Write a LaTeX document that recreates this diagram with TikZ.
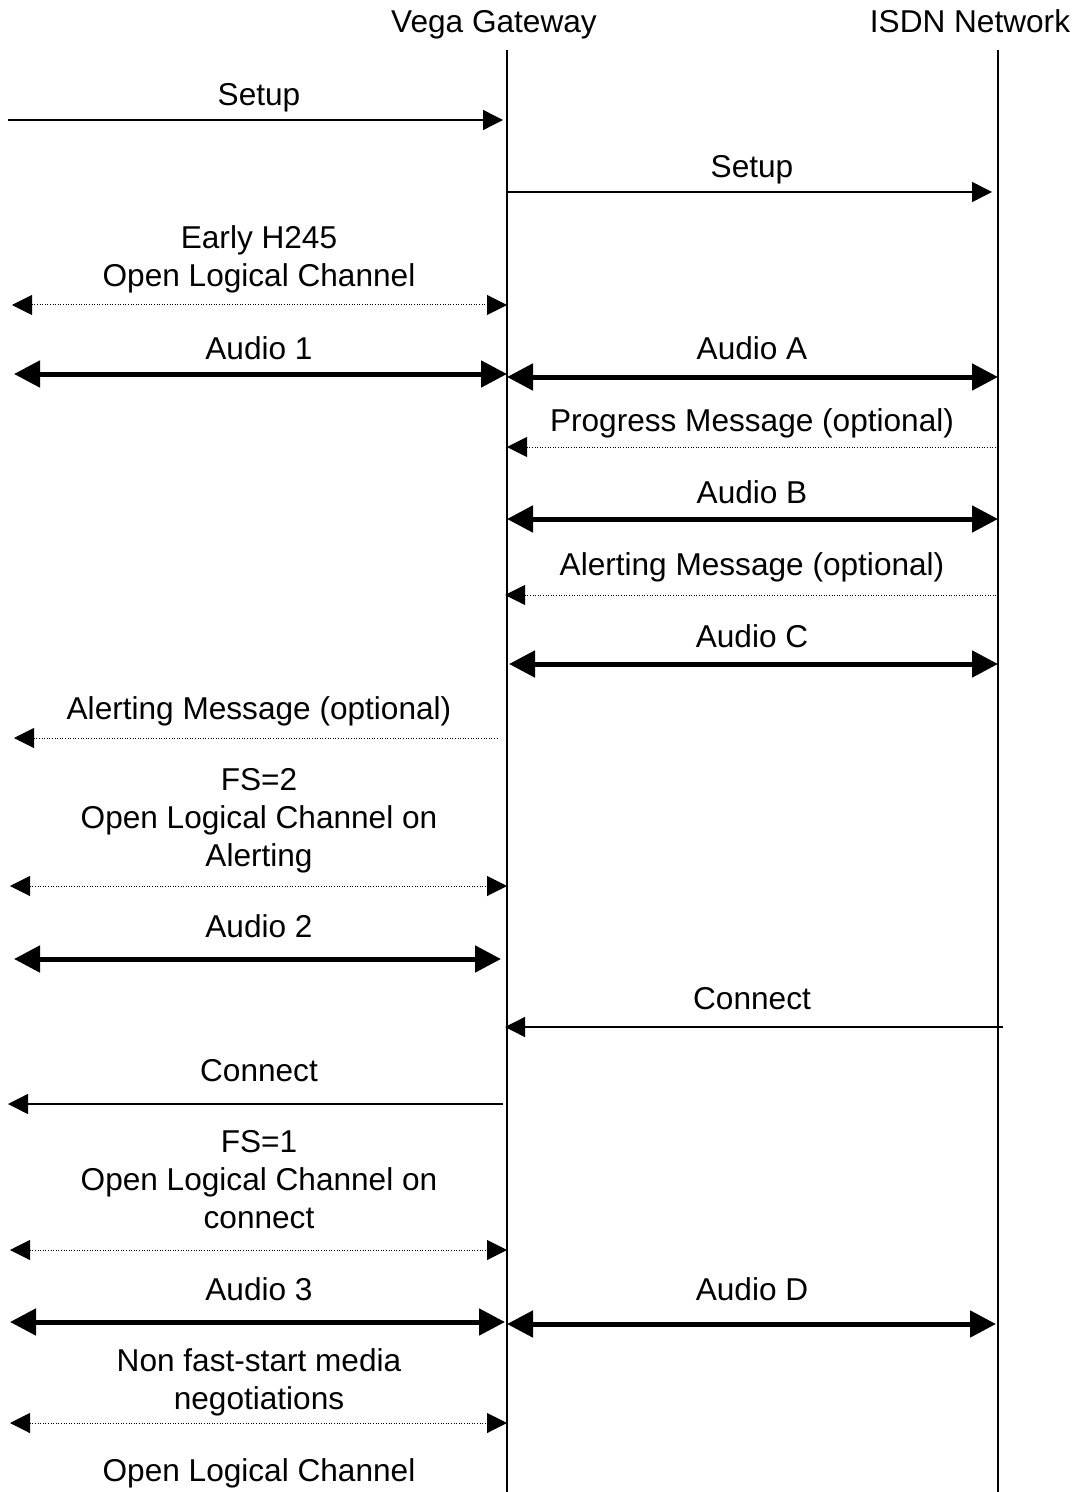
\documentclass[tikz,border=0pt]{standalone}
\usepackage{fontspec}
\setmainfont{Liberation Sans}
\usetikzlibrary{arrows.meta}
\tikzset{
  lbl/.style={font=\fontsize{15.8}{19}\selectfont, align=center, inner sep=0pt, anchor=base},
  lifeline/.style={line width=1pt},
  msg/.style={line width=0.7pt, -{Triangle[length=10pt,width=10pt]}},
  optmsg/.style={line width=0.5pt, dash pattern=on 0.5pt off 0.8pt},
  optboth/.style={optmsg, {Triangle[length=10pt,width=10pt]}-{Triangle[length=10pt,width=10pt]}},
  optleft/.style={optmsg, {Triangle[length=10pt,width=10pt]}-},
  media/.style={line width=2.5pt, {Triangle[length=13pt,width=13pt]}-{Triangle[length=13pt,width=13pt]}},
}
\begin{document}
\begin{tikzpicture}[x=0.5pt,y=-0.5pt]
    \useasboundingbox (0,0) rectangle (1079,1492);

    % lifelines
    \node[lbl] (gwname) at (494,33) {Vega Gateway};
    \node[lbl] (isdnname) at (970,33) {ISDN Network};
    \coordinate (gwtop) at (507,50);
    \coordinate (gwbot) at (507,1492);
    \coordinate (isdntop) at (998,50);
    \coordinate (isdnbot) at (998,1492);
    \draw[lifeline] (gwtop) -- (gwbot);
    \draw[lifeline] (isdntop) -- (isdnbot);

    % setup
    \coordinate (setupa) at (8,120);
    \coordinate (setupb) at (503,120);
    \draw[msg] (setupa) -- (setupb);
    \node[lbl] (setupl) at (259,106) {Setup};

    \coordinate (isetupa) at (507,192);
    \coordinate (isetupb) at (992,192);
    \draw[msg] (isetupa) -- (isetupb);
    \node[lbl] (isetupl) at (752,178) {Setup};

    % early h245 (base = last line)
    \coordinate (olca) at (12,305);
    \coordinate (olcb) at (507,305);
    \draw[optboth] (olca) -- (olcb);
    \node[lbl] (olcl) at (259,287) {Early H245\\Open Logical Channel};

    % audio 1 / A
    \coordinate (au1a) at (14,374);
    \coordinate (au1b) at (507,374);
    \draw[media] (au1a) -- (au1b);
    \node[lbl] (au1l) at (259,359) {Audio 1};

    \coordinate (auAa) at (507,377);
    \coordinate (auAb) at (998,377);
    \draw[media] (auAa) -- (auAb);
    \node[lbl] (auAl) at (752,359) {Audio A};

    % progress
    \coordinate (proga) at (507,447);
    \coordinate (progb) at (998,447);
    \draw[optleft] (proga) -- (progb);
    \node[lbl] (progl) at (752,431) {Progress Message (optional)};

    % audio B
    \coordinate (auBa) at (507,519);
    \coordinate (auBb) at (998,519);
    \draw[media] (auBa) -- (auBb);
    \node[lbl] (auBl) at (752,503) {Audio B};

    % alerting isdn side
    \coordinate (ialerta) at (505,595);
    \coordinate (ialertb) at (998,595);
    \draw[optleft] (ialerta) -- (ialertb);
    \node[lbl] (ialertl) at (752,575) {Alerting Message (optional)};

    % audio C
    \coordinate (auCa) at (509,664);
    \coordinate (auCb) at (998,664);
    \draw[media] (auCa) -- (auCb);
    \node[lbl] (auCl) at (752,647) {Audio C};

    % alerting h323 side
    \coordinate (alerta) at (14,738);
    \coordinate (alertb) at (497,738);
    \draw[optleft] (alerta) -- (alertb);
    \node[lbl] (alertl) at (259,719) {Alerting Message (optional)};

    % fs=2
    \coordinate (fs2a) at (10,886);
    \coordinate (fs2b) at (507,886);
    \draw[optboth] (fs2a) -- (fs2b);
    \node[lbl] (fs2l) at (259,866) {FS=2\\Open Logical Channel on\\Alerting};

    % audio 2
    \coordinate (au2a) at (14,959);
    \coordinate (au2b) at (501,959);
    \draw[media] (au2a) -- (au2b);
    \node[lbl] (au2l) at (259,937) {Audio 2};

    % connect
    \coordinate (iconna) at (505,1027);
    \coordinate (iconnb) at (1003,1027);
    \draw[msg] (iconnb) -- (iconna);
    \node[lbl] (iconnl) at (752,1009) {Connect};

    \coordinate (conna) at (8,1104);
    \coordinate (connb) at (503,1104);
    \draw[msg] (connb) -- (conna);
    \node[lbl] (connl) at (259,1081) {Connect};

    % fs=1
    \coordinate (fs1a) at (10,1250);
    \coordinate (fs1b) at (507,1250);
    \draw[optboth] (fs1a) -- (fs1b);
    \node[lbl] (fs1l) at (259,1228) {FS=1\\Open Logical Channel on\\connect};

    % audio 3 / D
    \coordinate (au3a) at (10,1322);
    \coordinate (au3b) at (505,1322);
    \draw[media] (au3a) -- (au3b);
    \node[lbl] (au3l) at (259,1300) {Audio 3};

    \coordinate (auDa) at (507,1324);
    \coordinate (auDb) at (996,1324);
    \draw[media] (auDa) -- (auDb);
    \node[lbl] (auDl) at (752,1300) {Audio D};

    % non fast-start
    \coordinate (nfsa) at (10,1423);
    \coordinate (nfsb) at (507,1423);
    \draw[optboth] (nfsa) -- (nfsb);
    \node[lbl] (nfsl) at (259,1409) {Non fast-start media\\negotiations};

    \node[lbl] (olc2l) at (259,1481) {Open Logical Channel};
\end{tikzpicture}
\end{document}
